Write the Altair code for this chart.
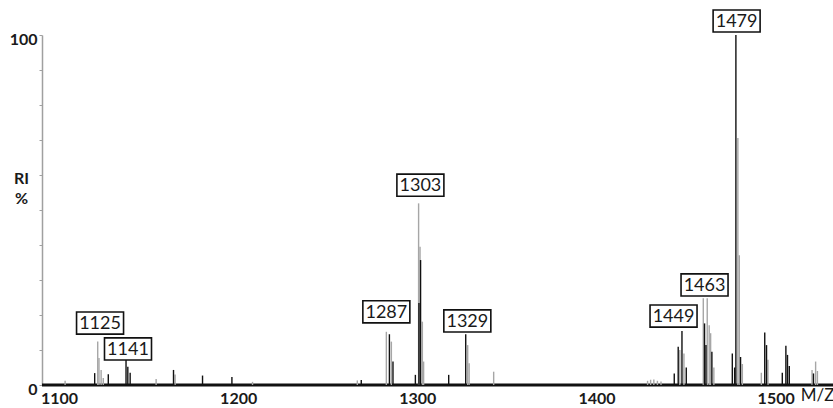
import altair as alt
import pandas as pd

# Light-grey spectrum sticks (m/z, relative intensity %)
gray_mz = [1103.4, 1121.6, 1122.3, 1123.5, 1124.7, 1154.2, 1164.8, 1208.0, 1266.5,
           1282.7, 1285.5, 1300.7, 1301.5, 1302.8, 1303.5, 1328.1, 1328.9, 1342.6,
           1428.5, 1430.2, 1432.0, 1434.0, 1436.0, 1446.5, 1448.8, 1459.6, 1461.8,
           1462.9, 1463.7, 1465.5, 1478.9, 1479.7, 1481.4, 1492.0, 1495.7, 1520.3,
           1522.3, 1523.3]
gray_ri = [1.2, 12.4, 7.7, 4.3, 2.0, 1.7, 3.0, 0.9, 1.3,
           15.2, 12.4, 51.9, 39.5, 18.1, 6.7, 11.4, 6.2, 3.8,
           1.2, 1.5, 1.6, 1.2, 1.0, 10.0, 9.0, 24.8, 24.8,
           17.1, 14.8, 5.0, 70.6, 37.1, 6.0, 3.5, 7.2, 4.3,
           6.7, 4.0]

# Black spectrum sticks
black_mz = [1119.9, 1127.5, 1137.4, 1138.4, 1139.7, 1163.9, 1180.1, 1196.5, 1268.7,
            1284.4, 1286.4, 1298.9, 1300.9, 1301.8, 1317.5, 1327.0, 1443.4, 1445.6,
            1447.7, 1450.1, 1460.3, 1461.1, 1464.4, 1475.8, 1477.1, 1477.8, 1480.4,
            1493.9, 1494.9, 1503.7, 1505.7, 1506.6, 1507.6, 1521.1]
black_ri = [3.4, 3.1, 7.6, 5.2, 3.5, 4.3, 2.7, 2.3, 1.4,
            14.5, 6.7, 2.9, 23.4, 35.7, 2.9, 14.5, 3.3, 10.9,
            15.4, 5.0, 17.6, 11.4, 9.5, 9.0, 5.0, 100.0, 8.0,
            15.0, 11.4, 3.5, 11.2, 8.6, 5.4, 3.3]

# Boxed peak labels
label_text = ["1125", "1141", "1287", "1303", "1329", "1449", "1463", "1479"]
label_mz = [1122.9, 1138.5, 1282.7, 1301.7, 1327.9, 1443.0, 1460.3, 1478.2]
label_ri = [17.7, 10.3, 20.9, 57.1, 18.3, 19.7, 28.6, 104.0]

x_ticks = [1100, 1200, 1300, 1400, 1500]
y_ticks = [0, 10, 20, 30, 40, 50, 60, 70, 80, 90, 100]
x_domain = [1090.5, 1532.0]
y_domain = [0, 100]

gray_df = pd.DataFrame({"mz": gray_mz, "ri": gray_ri})
black_df = pd.DataFrame({"mz": black_mz, "ri": black_ri})
label_df = pd.DataFrame({"label": label_text, "mz": label_mz, "ri": label_ri})
base_df = pd.DataFrame({"mz": x_domain, "ri": [0, 0]})


def xs():
    return alt.Scale(domain=x_domain, nice=False, zero=False)


def ys():
    return alt.Scale(domain=y_domain, nice=False, zero=True)


def x_axis():
    return alt.Axis(values=x_ticks, format="d", domain=False, ticks=False, tickSize=0,
                    grid=False, labelPadding=5, labelFont="Lato", labelFontWeight="bold",
                    labelFontSize=16, labelColor="#1a1a1a",
                    title="M/Z", titleX=775, titleY=2, titleAlign="center",
                    titleBaseline="top", titleFont="Lato", titleFontWeight="normal",
                    titleFontSize=17, titleColor="#1a1a1a")


def y_axis():
    return alt.Axis(values=y_ticks,
                    labelExpr="datum.value == 0 || datum.value == 100 ? datum.label : ''",
                    domainColor="#a0a0a0", domainWidth=1.5, tickColor="#a0a0a0",
                    tickSize=3, tickWidth=1, grid=False, labelPadding=2, labelOffset=4,
                    labelFont="Lato", labelFontWeight="bold", labelFontSize=16,
                    labelColor="#1a1a1a",
                    title=["RI", "%"], titleAngle=0, titleX=-21, titleY=135,
                    titleAlign="center", titleBaseline="top", titleLineHeight=20,
                    titleFont="Lato", titleFontWeight="bold", titleFontSize=16,
                    titleColor="#1a1a1a")


def X():
    return alt.X("mz:Q", scale=xs(), axis=x_axis())


def Y():
    return alt.Y("ri:Q", scale=ys(), axis=y_axis())


base = alt.Chart(base_df).mark_line(color="#111111", strokeWidth=3).encode(x=X(), y=Y())

gray = alt.Chart(gray_df).mark_rule(color="#a6a6a6", strokeWidth=1.4).encode(
    x=X(), y=Y(), y2=alt.datum(0),
)

black = alt.Chart(black_df).mark_rule(color="#111111", strokeWidth=1.4).encode(
    x=X(), y=Y(), y2=alt.datum(0),
)

box_path = "M-1,-0.47H1V0.47H-1Z"
boxes = alt.Chart(label_df).mark_point(
    shape=box_path, size=47 * 47, filled=True, fill="white", stroke="#111111",
    strokeWidth=1.6, opacity=1,
).encode(x=X(), y=Y())

texts = alt.Chart(label_df).mark_text(
    font="Lato", fontSize=18, fontWeight="normal", color="#1a1a1a",
    align="center", baseline="middle", dy=1,
).encode(x=X(), y=Y(), text="label:N")

chart = alt.layer(base, gray, black, boxes, texts).properties(
    width=791, height=350,
    autosize=alt.AutoSizeParams(type="none"),
    padding={"left": 42, "top": 35, "right": 0, "bottom": 23},
    background="white",
).configure_view(stroke=None)

chart.save("out.html", embed_options={"renderer": "svg", "actions": False})
